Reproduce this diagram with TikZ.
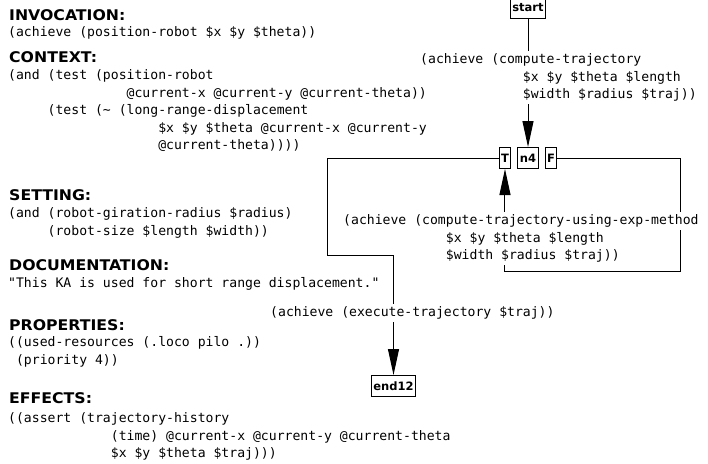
\documentclass[tikz,border=0pt]{standalone}
\usepackage{fontspec}
\usepackage{xcolor}
\usetikzlibrary{arrows.meta,positioning}
\newfontfamily\monof{DejaVu Sans Mono}
\newfontfamily\headf{DejaVu Sans}[FakeStretch=1.07]
\newfontfamily\boxf{DejaVu Sans}
\newlength\chw
\setlength\chw{7.9pt}
\newcommand\ind[1]{\hspace*{#1\chw}}
\newcommand\wl[1]{{\setlength\fboxsep{0pt}\colorbox{white}{\strut #1}}}

\begin{document}
\begin{tikzpicture}[x=1pt,y=-1pt,
    head/.style={anchor=base west, inner sep=0pt, font=\headf\bfseries\fontsize{14.7}{17}\selectfont},
    body/.style={anchor=north west, inner sep=0pt, align=left, font=\monof\fontsize{13.12}{17.5}\selectfont},
    kbox/.style={draw, line width=1pt, inner sep=2pt, minimum height=21pt, font=\boxf\bfseries\fontsize{11.5}{13}\selectfont},
    link/.style={line width=1pt, -{Triangle[length=26pt,width=11pt]}}]
\useasboundingbox (0,0) rectangle (708,463);
% left column
\node[head] (hinv) at (9,20) {INVOCATION:};
\node[body] (binv) at (8,24.25) {\strut(achieve (position-robot \$x \$y \$theta))};
\node[head] (hctx) at (9,62) {CONTEXT:};
\node[body] (bctx) at (8,67.25) {\strut(and (test (position-robot\\
\ind{15}@current-x @current-y @current-theta))\\
\ind{5}(test (\textasciitilde{} (long-range-displacement\\
\ind{19}\$x \$y \$theta @current-x @current-y\\
\ind{19}@current-theta))))};
\node[head] (hset) at (9,200) {SETTING:};
\node[body] (bset) at (8,205.25) {\strut(and (robot-giration-radius \$radius)\\
\ind{5}(robot-size \$length \$width))};
\node[head] (hdoc) at (9,270) {DOCUMENTATION:};
\node[body] (bdoc) at (8,275.25) {\strut"This KA is used for short range displacement."};
\node[head] (hprop) at (9,330) {PROPERTIES:};
\node[body] (bprop) at (8,334.25) {\strut((used-resources (.loco pilo .))\\
\ind{1}(priority 4))};
\node[head] (heff) at (9,403) {EFFECTS:};
\node[body] (beff) at (8,410.25) {\strut((assert (trajectory-history\\
\ind{13}(time) @current-x @current-y @current-theta\\
\ind{13}\$x \$y \$theta \$traj)))};
% graph
\node[kbox] (start) at (528,7.5) {start};
\node[kbox] (n4) at (528,158) {n4};
\node[kbox, left=6pt of n4] (T) {T};
\node[kbox, right=6pt of n4] (F) {F};
\node[kbox] (end12) at (393.5,386) {end12};
\coordinate (tB) at (327,255);
\coordinate (fB) at (680,271);
\draw[link] (start) -- (n4);
\draw[link] (T) -| (tB) -| (end12);
\draw[link] (F) -| (fB) -| (T);
% goal labels
\node[body] (goalA) at (420,51.25) {\wl{(achieve (compute-trajectory}\\
\ind{13}\wl{\$x \$y \$theta \$length}\\
\ind{13}\wl{\$width \$radius \$traj))}};
\node[body] (goalB) at (270,304.25) {\wl{(achieve (execute-trajectory \$traj))}};
\node[body] (goalC) at (343,212.25) {\wl{(achieve (compute-trajectory-using-exp-method}\\
\ind{13}\wl{\$x \$y \$theta \$length}\\
\ind{13}\wl{\$width \$radius \$traj))}};
\end{tikzpicture}
\end{document}
